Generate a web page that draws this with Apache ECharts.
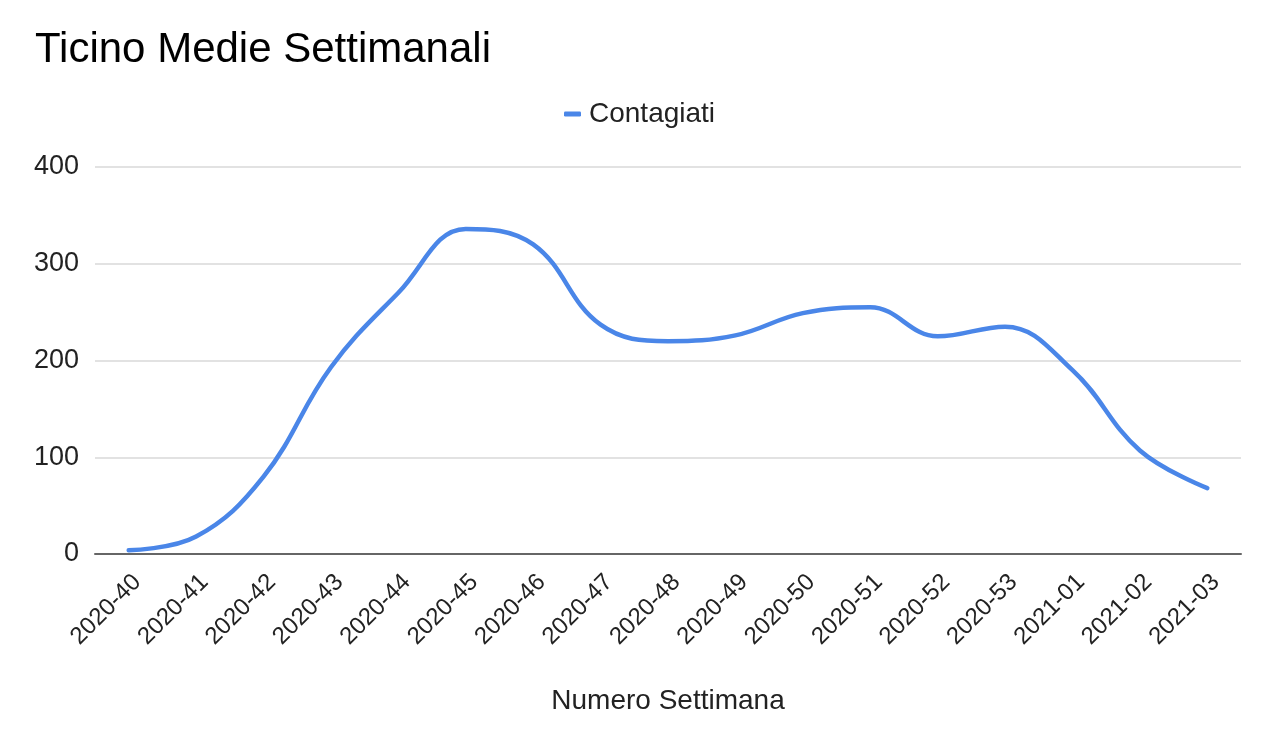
<!DOCTYPE html>
<html>
<head>
<meta charset="utf-8">
<script src="https://cdn.jsdelivr.net/npm/echarts@6/dist/echarts.min.js"></script>
<style>
html,body{margin:0;padding:0;background:#fff;}
#chart{width:1280px;height:747px;}
</style>
</head>
<body>
<div id="chart"></div>
<script>
const categories = ["2020-40","2020-41","2020-42","2020-43","2020-44","2020-45","2020-46","2020-47","2020-48","2020-49","2020-50","2020-51","2020-52","2020-53","2021-01","2021-02","2021-03"];
const contagiati = [4, 18, 80, 193, 270, 336, 320, 237, 220, 226, 249, 255, 225, 235, 190, 107, 68];
const yTicks = [0, 100, 200, 300, 400];

const FONT = '"Liberation Sans", Arial, sans-serif';
const chart = echarts.init(document.getElementById('chart'));
chart.setOption({
  backgroundColor: '#ffffff',
  animation: false,
  title: {
    text: 'Ticino Medie Settimanali',
    left: 30, top: 24,
    textStyle: { fontFamily: FONT, fontSize: 42, fontWeight: 'normal', color: '#000' }
  },
  legend: {
    data: ['Contagiati'],
    left: 559, top: 95,
    icon: 'roundRect',
    itemWidth: 17, itemHeight: 5,
    itemGap: 10,
    textStyle: { fontFamily: FONT, fontSize: 28, color: '#222', padding: [0, 0, 0, 3] }
  },
  grid: { left: 95, right: 39, top: 167, bottom: 193, containLabel: false },
  xAxis: {
    type: 'category',
    data: categories,
    boundaryGap: true,
    name: 'Numero Settimana',
    nameLocation: 'middle',
    nameGap: 133,
    nameTextStyle: { fontFamily: FONT, fontSize: 28, color: '#222' },
    axisLine: { lineStyle: { color: '#666', width: 2 } },
    axisTick: { show: false },
    axisLabel: { rotate: 45, margin: 16, verticalAlign: 'top', fontFamily: FONT, fontSize: 24, color: '#222', interval: 0 }
  },
  yAxis: {
    type: 'value',
    min: yTicks[0], max: yTicks[yTicks.length - 1], interval: 100,
    axisLine: { show: false },
    axisTick: { show: false },
    axisLabel: { margin: 16, fontFamily: FONT, fontSize: 27, color: '#222' },
    splitLine: { lineStyle: { color: '#d9d9d9', width: 1.5 } }
  },
  series: [{
    name: 'Contagiati',
    type: 'line',
    data: contagiati,
    smooth: 0.4,
    showSymbol: false,
    symbol: 'none',
    itemStyle: { color: '#4a86e8' },
    lineStyle: { color: '#4a86e8', width: 4.5, cap: 'round' }
  }]
});
</script>
</body>
</html>
